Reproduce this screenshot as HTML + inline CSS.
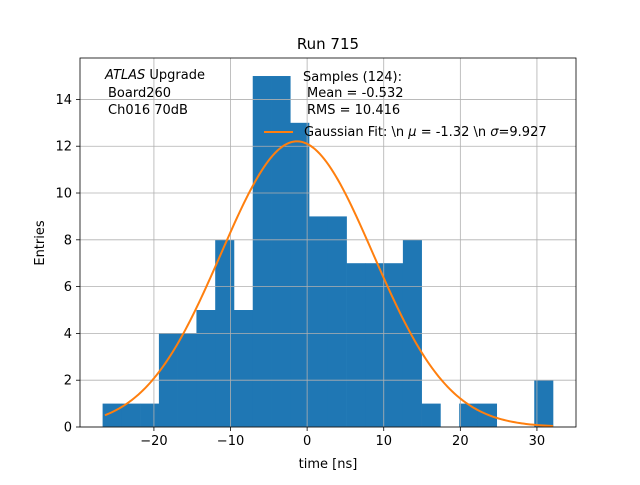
<!DOCTYPE html>
<html><head><meta charset="utf-8"><style>
body{margin:0;background:#fff}
svg text{font-family:"DejaVu Sans","Liberation Sans",sans-serif;fill:#000}
</style></head><body>
<svg id="chart" width="640" height="480" xmlns="http://www.w3.org/2000/svg">
<rect width="640" height="480" fill="#fff"/>
<g id="bars"></g><g id="grid"></g><g id="fit"></g><g id="axes"></g>
<text x="328" y="49" font-size="15" text-anchor="middle">Run 715</text>
<text x="328" y="468" font-size="13" text-anchor="middle">time [ns]</text>
<text transform="translate(44,243) rotate(-90)" font-size="13" text-anchor="middle">Entries</text>
<g font-size="13">
<text x="105" y="79"><tspan font-style="italic">ATLAS</tspan> Upgrade</text>
<text x="108" y="97">Board260</text>
<text x="108" y="114">Ch016 70dB</text>
</g>
<g font-size="13">
<text x="303" y="81">Samples (124):</text>
<text x="307" y="97">Mean = -0.532</text>
<text x="307" y="114">RMS = 10.416</text>
<line x1="264" y1="132" x2="293" y2="132" stroke="#ff7f0e" stroke-width="2"/>
<text x="304" y="136">Gaussian Fit: \n <tspan font-style="italic">μ</tspan> = -1.32 \n <tspan font-style="italic">σ</tspan>=9.927</text>
</g>
</svg>
<script>
const binStart = -26.7;
const binWidth = 2.45;
const counts = [1,1,1,4,4,5,8,5,15,15,13,9,9,7,7,7,8,1,0,1,1,0,0,2];
const xTicks = [-20,-10,0,10,20,30];
const yTicks = [0,2,4,6,8,10,12,14];
const fitMu = -1.32, fitSigma = 9.927, fitN = 124;
const fitRange = [-26.4, 32.1];

const L=80,R=576,T=58,B=427;
const xMin=-29.65,xMax=35.1,yMin=0,yMax=15.77;
const X=v=>L+(v-xMin)/(xMax-xMin)*(R-L);
const Y=v=>B-(v-yMin)/(yMax-yMin)*(B-T);
const NS="http://www.w3.org/2000/svg";
function mk(tag,attrs,parent){const e=document.createElementNS(NS,tag);for(const k in attrs)e.setAttribute(k,attrs[k]);parent.appendChild(e);return e;}
const grid=document.getElementById('grid'),bars=document.getElementById('bars'),fit=document.getElementById('fit'),axes=document.getElementById('axes');
xTicks.forEach(t=>{
  const g=mk('line',{x1:X(t),x2:X(t),y1:T,y2:B,stroke:'#b0b0b0','stroke-width':0.8},grid);
  
  
  mk('line',{x1:X(t),x2:X(t),y1:B,y2:B+4,stroke:'#000','stroke-width':0.8},axes);
  const tx=mk('text',{x:X(t),y:B+18,'font-size':13,'text-anchor':'middle'},axes);
  tx.textContent=(t<0?'−'+(-t):t);
  
  
});
yTicks.forEach(t=>{
  const g=mk('line',{x1:L,x2:R,y1:Y(t),y2:Y(t),stroke:'#b0b0b0','stroke-width':0.8},grid);
  
  
  mk('line',{x1:L-4,x2:L,y1:Y(t),y2:Y(t),stroke:'#000','stroke-width':0.8},axes);
  const tx=mk('text',{x:L-8,y:Y(t)+4.5,'font-size':13,'text-anchor':'end'},axes);
  tx.textContent=t;
  
  
});
counts.forEach((c,i)=>{
  if(!c)return;
  const x0=X(binStart+i*binWidth),x1=X(binStart+(i+1)*binWidth);
  const r=mk('rect',{x:x0,y:Y(c),width:x1-x0+0.3,height:Y(0)-Y(c),fill:'#1f77b4'},bars);
  
  
});
const amp=fitN*binWidth/(Math.sqrt(2*Math.PI)*fitSigma);
let d='';
for(let k=0;k<=200;k++){const v=fitRange[0]+(fitRange[1]-fitRange[0])*k/200;const y=amp*Math.exp(-0.5*((v-fitMu)/fitSigma)**2);d+=(k?'L':'M')+X(v).toFixed(2)+','+Y(y).toFixed(2);}
const p=mk('path',{d:d,fill:'none',stroke:'#ff7f0e','stroke-width':2},fit);


const f=mk('rect',{x:L,y:T,width:R-L,height:B-T,fill:'none',stroke:'#000','stroke-width':0.8},axes);


</script>
</body></html>
